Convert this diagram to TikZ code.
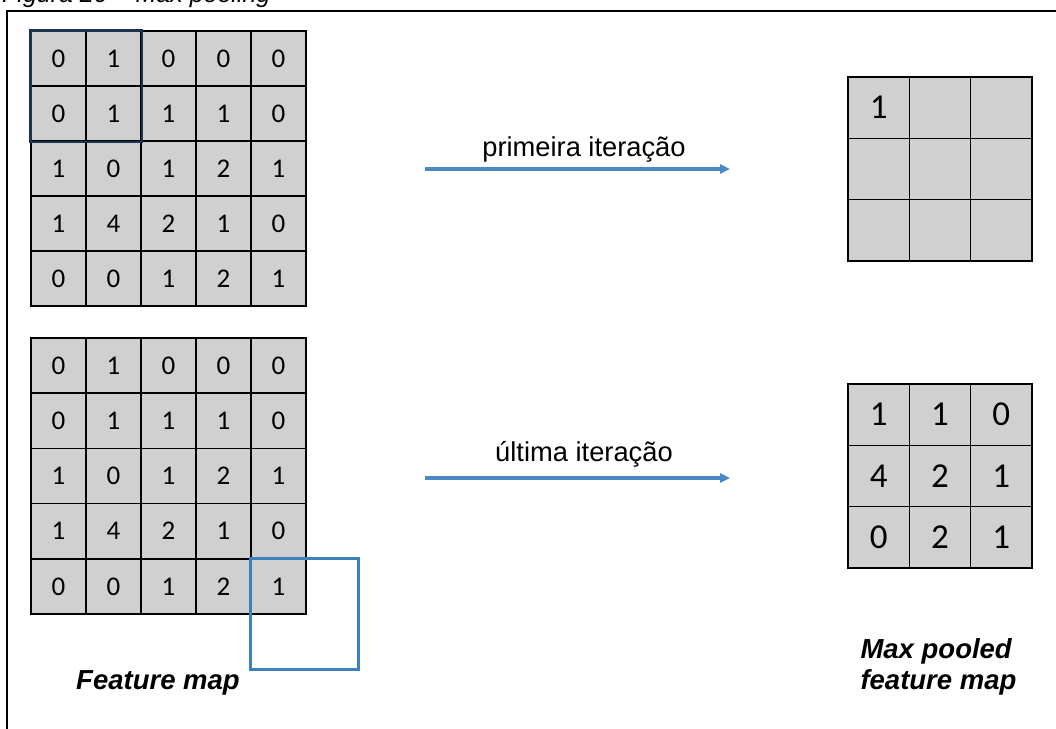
\documentclass[tikz,border=0pt]{standalone}
\usepackage{fontspec}
\setmainfont{Liberation Sans}
\newfontfamily\numfont{Carlito}
\usetikzlibrary{arrows.meta}
\definecolor{cellgray}{HTML}{D0D0D0}
\definecolor{poolblue}{HTML}{3D80BE}
\definecolor{arrowblue}{HTML}{4A88C6}
\definecolor{navyline}{HTML}{1E3350}
\begin{document}
\begin{tikzpicture}[x=1pt,y=-1pt,
  cellA/.style={draw=black, line width=1.4pt, fill=cellgray, minimum size=55pt,
    inner sep=0pt, font=\numfont\fontsize{27}{27}\selectfont},
  cellB/.style={cellA, minimum size=61.5pt, font=\numfont\fontsize{35}{35}\selectfont},
  iterarrow/.style={draw=arrowblue, line width=3.2pt,
    -{Triangle[length=10pt,width=9pt]}},
  iterlabel/.style={font=\fontsize{27.3}{27.3}\selectfont},
  caption/.style={font=\bfseries\itshape\fontsize{27.5}{31}\selectfont}]
\useasboundingbox (0,0) rectangle (1056,728);

% figure title (partly above the page)
\node[anchor=base west, font=\itshape\fontsize{25}{25}\selectfont, inner sep=0pt]
  (title) at (2,2) {Figura 20 – Max pooling};

% frame
\draw[line width=2.4pt] (7,732) -- (7,11) -- (1060,11);

% feature map, first iteration
\foreach \row [count=\r] in {{0,1,0,0,0},{0,1,1,1,0},{1,0,1,2,1},{1,4,2,1,0},{0,0,1,2,1}}{
  \foreach \v [count=\c] in \row {
    \node[cellA] (fa-\r-\c) at ({31+55*(\c-0.5)},{31+55*(\r-0.5)}) {\v};
  }
}
% feature map, last iteration
\foreach \row [count=\r] in {{0,1,0,0,0},{0,1,1,1,0},{1,0,1,2,1},{1,4,2,1,0},{0,0,1,2,1}}{
  \foreach \v [count=\c] in \row {
    \node[cellA] (fb-\r-\c) at ({31+55*(\c-0.5)},{338+55.2*(\r-0.5)}) {\v};
  }
}
% pooled map after the first step
\foreach \row [count=\r] in {{1,{},{}},{{},{},{}},{{},{},{}}}{
  \foreach \v [count=\c] in \row {
    \node[cellB] (pa-\r-\c) at ({848+61.3*(\c-0.5)},{77+61.3*(\r-0.5)}) {\v};
  }
}
% pooled map after the last step
\foreach \row [count=\r] in {{1,1,0},{4,2,1},{0,2,1}}{
  \foreach \v [count=\c] in \row {
    \node[cellB] (pb-\r-\c) at ({848+61.3*(\c-0.5)},{384+61.3*(\r-0.5)}) {\v};
  }
}

% pooling windows
\draw[navyline, line width=2.4pt] (fa-1-1.north west) rectangle (fa-2-2.south east);
\draw[poolblue, line width=3pt] (fb-5-5.north west) rectangle ++(108,111);

% iteration arrows
\coordinate (a1s) at (425,169);
\coordinate (a1e) at (730,169);
\draw[iterarrow] (a1s) -- (a1e);
\node[iterlabel] (l1) at (584,149) {primeira iteração};

\coordinate (a2s) at (425,478);
\coordinate (a2e) at (730,478);
\draw[iterarrow] (a2s) -- (a2e);
\node[iterlabel] (l2) at (584,454) {última iteração};

% captions
\node[caption] (fm) at (158,683) {Feature map};
\node[caption, align=left, anchor=west] (pm) at (857,667) {Max pooled\\feature map};
\end{tikzpicture}
\end{document}
